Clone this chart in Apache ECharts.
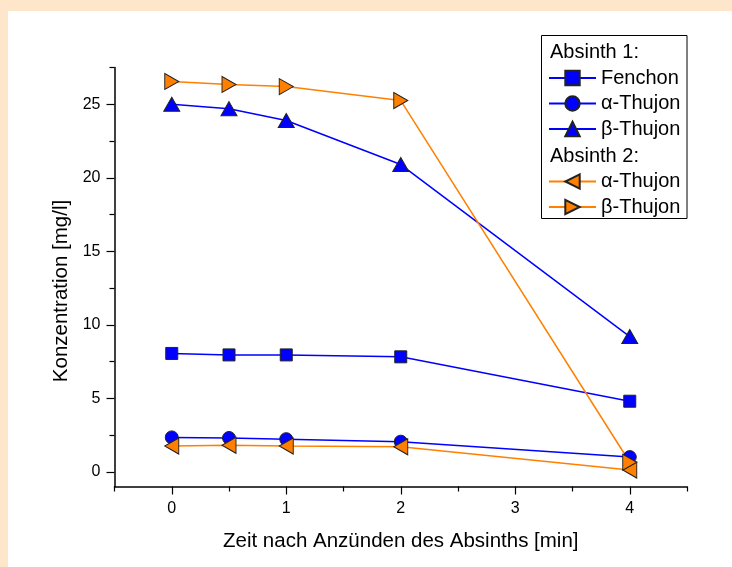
<!DOCTYPE html>
<html>
<head>
<meta charset="utf-8">
<script src="https://cdn.jsdelivr.net/npm/echarts@6/dist/echarts.min.js"></script>
<style>
  html, body { margin: 0; padding: 0; background: #fde6c9; }
  #panel { position: absolute; left: 8px; top: 11px; width: 724px; height: 556px; background: #ffffff; }
  #chart { position: absolute; left: 0; top: 0; width: 732px; height: 567px; }
</style>
</head>
<body>
<div id="panel"></div>
<div id="chart"></div>
<script>
// ---- data ----
const timeMin = [0, 0.5, 1, 2, 4];
const fenchon1 = [8.05, 7.95, 7.95, 7.82, 4.8];
const alphaThujon1 = [2.34, 2.3, 2.22, 2.05, 1.0];
const betaThujon1 = [25.0, 24.7, 23.9, 20.9, 9.2];
const alphaThujon2 = [1.75, 1.8, 1.75, 1.7, 0.12];
const betaThujon2 = [26.55, 26.35, 26.2, 25.25, 0.65];

const xMajorTicks = [0, 1, 2, 3, 4];
const xMinorTicks = [-0.5, 0.5, 1.5, 2.5, 3.5, 4.5];
const yMajorTicks = [0, 5, 10, 15, 20, 25];
const yMinorTicks = [2.5, 7.5, 12.5, 17.5, 22.5, 27.5];

const legendHeading1 = 'Absinth 1:';
const legendHeading2 = 'Absinth 2:';

const FONT = 'Liberation Sans, Arial, Helvetica, sans-serif';
const BLUE = '#0000ff';
const ORANGE = '#ff8000';
const RIGHT_TRI = 'path://M0,0L1,0.5L0,1Z';
const LEFT_TRI = 'path://M1,0L0,0.5L1,1Z';

function pts(arr) { return timeMin.map((x, i) => [x, arr[i]]); }

function mkSeries(name, arr, color, symbol, size) {
  return {
    name: name,
    type: 'line',
    xAxisIndex: 0,
    yAxisIndex: 0,
    data: pts(arr),
    symbol: symbol,
    symbolSize: size,
    showAllSymbol: true,
    lineStyle: { color: color, width: 1.5 },
    itemStyle: { color: color, borderColor: '#222', borderWidth: 1 },
    emphasis: { disabled: true }
  };
}

const chart = echarts.init(document.getElementById('chart'), null, { renderer: 'canvas' });

const axisLineStyle = { color: '#000', width: 1.5 };

const option = {
  backgroundColor: 'transparent',
  animation: false,
  textStyle: { fontFamily: FONT },
  grid: { left: 114.5, right: 45, top: 67.5, bottom: 80.5, containLabel: false },
  xAxis: [
    {
      type: 'value', min: -0.5, max: 4.5,
      axisLine: { show: true, onZero: false, lineStyle: axisLineStyle },
      axisTick: { show: true, inside: false, length: 8, customValues: xMajorTicks, lineStyle: { color: '#000', width: 1.2 } },
      axisLabel: { show: true, customValues: xMajorTicks, margin: 14, fontSize: 16, color: '#000', fontFamily: FONT },
      splitLine: { show: false },
      name: 'Zeit nach Anzünden des Absinths [min]',
      nameLocation: 'middle', nameGap: 44,
      nameTextStyle: { fontSize: 20.5, color: '#000', fontFamily: FONT }
    },
    {
      type: 'value', min: -0.5, max: 4.5, position: 'bottom', gridIndex: 0,
      axisLine: { show: false, onZero: false },
      axisTick: { show: true, inside: false, length: 5, customValues: xMinorTicks, lineStyle: { color: '#000', width: 1.2 } },
      axisLabel: { show: false },
      splitLine: { show: false }
    }
  ],
  yAxis: [
    {
      type: 'value', min: -1, max: 27.5,
      axisLine: { show: true, onZero: false, lineStyle: axisLineStyle },
      axisTick: { show: true, inside: false, length: 8, customValues: yMajorTicks, lineStyle: { color: '#000', width: 1.2 } },
      axisLabel: { show: true, customValues: yMajorTicks, margin: 14, fontSize: 16, color: '#000', fontFamily: FONT },
      splitLine: { show: false },
      name: 'Konzentration [mg/l]',
      nameLocation: 'middle', nameGap: 42, nameRotate: 90,
      nameTextStyle: { fontSize: 20.5, color: '#000', fontFamily: FONT, padding: [0, 28, 0, 0] }
    },
    {
      type: 'value', min: -1, max: 27.5, position: 'left', gridIndex: 0,
      axisLine: { show: false, onZero: false },
      axisTick: { show: true, inside: false, length: 5, customValues: yMinorTicks, lineStyle: { color: '#000', width: 1.2 } },
      axisLabel: { show: false },
      splitLine: { show: false }
    }
  ],
  legend: [
    {
      data: ['Fenchon', 'α-Thujon (1)', 'β-Thujon (1)'],
      orient: 'vertical', left: 548, top: 68, padding: 0,
      itemWidth: 47, itemHeight: 18, itemGap: 5.5,
      selectedMode: false,
      formatter: n => n.replace(/ \(\d\)$/, ''),
      textStyle: { fontSize: 20, color: '#000', fontFamily: FONT }
    },
    {
      data: ['α-Thujon (2)', 'β-Thujon (2)'],
      orient: 'vertical', left: 548, top: 171.5, padding: 0,
      itemWidth: 47, itemHeight: 18, itemGap: 5.5,
      selectedMode: false,
      formatter: n => n.replace(/ \(\d\)$/, ''),
      textStyle: { fontSize: 20, color: '#000', fontFamily: FONT }
    }
  ],
  graphic: [
    {
      type: 'rect', silent: true, z: 100,
      shape: { x: 541.5, y: 35.5, width: 145.5, height: 183 },
      style: { fill: 'none', stroke: '#000', lineWidth: 1 }
    },
    {
      type: 'text', silent: true, z: 100, left: 550, top: 42,
      style: { text: legendHeading1, fontSize: 20, fill: '#000', fontFamily: FONT }
    },
    {
      type: 'text', silent: true, z: 100, left: 550, top: 146,
      style: { text: legendHeading2, fontSize: 20, fill: '#000', fontFamily: FONT }
    }
  ],
  series: [
    mkSeries('Fenchon', fenchon1, BLUE, 'rect', 12),
    mkSeries('α-Thujon (1)', alphaThujon1, BLUE, 'circle', 13),
    mkSeries('β-Thujon (1)', betaThujon1, BLUE, 'triangle', [16, 14]),
    mkSeries('α-Thujon (2)', alphaThujon2, ORANGE, LEFT_TRI, [14, 16]),
    mkSeries('β-Thujon (2)', betaThujon2, ORANGE, RIGHT_TRI, [14, 16])
  ]
};

chart.setOption(option);
</script>
</body>
</html>
